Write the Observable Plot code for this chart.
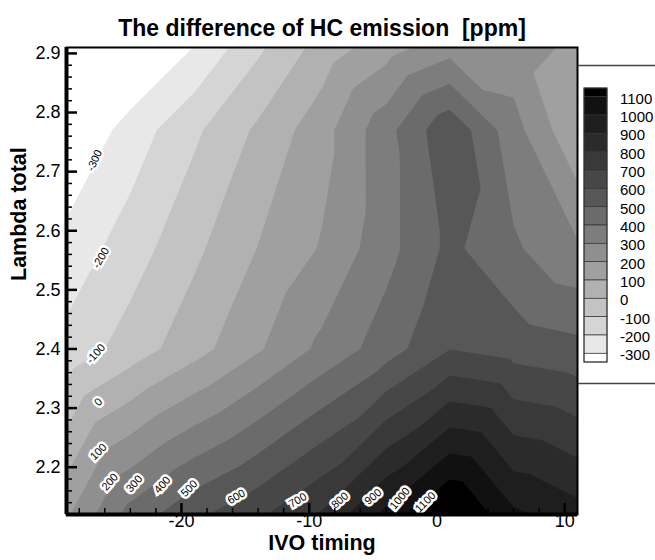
<!DOCTYPE html>
<html><head><meta charset="utf-8">
<script src="https://cdn.jsdelivr.net/npm/d3@7"></script>
<script src="https://cdn.jsdelivr.net/npm/@observablehq/plot@0.6"></script>
<style>
html,body{margin:0;padding:0;background:#fff;}
#wrap{position:relative;width:655px;height:560px;overflow:hidden;font-family:"Liberation Sans",Arial,sans-serif;}
#wrap svg.legend{position:absolute;left:0;top:0;pointer-events:none;}
</style></head><body><div id="wrap"></div>
<script>
// grid nodes
const ivoNodes = [-29, -24, -19, -14, -9, -4, 1, 6, 11];
const lambdaNodes = [2.12, 2.40, 2.57, 2.77, 2.91];
// HC difference [ppm] along each lambda row (same order as ivoNodes)
const hcAt212 = [185, 437, 577, 681, 813, 1029, 1235, 1020, 940];
const hcAt240 = [-170, -54, 61, 188, 325, 451, 598, 560, 530];
const hcAt257 = [-263, -150, -22, 103, 209, 364, 525, 415, 315];
const hcAt277 = [-408, -257, -119, 18, 161, 365, 580, 339, 110];
const hcAt291 = [-560, -429, -297, -119, 41, 157, 259, 240, 180];
const hcRows = [hcAt212, hcAt240, hcAt257, hcAt277, hcAt291];

const levels = [-300, -200, -100, 0, 100, 200, 300, 400, 500, 600, 700, 800, 900, 1000, 1100];
const xTicks = [-20, -10, 0, 10];
const xMinor = [-28, -26, -24, -22, -18, -16, -14, -12, -8, -6, -4, -2, 2, 4, 6, 8];
const yTicks = [2.2, 2.3, 2.4, 2.5, 2.6, 2.7, 2.8, 2.9];
const yMinor = [2.14, 2.16, 2.18, 2.22, 2.24, 2.26, 2.28, 2.32, 2.34, 2.36, 2.38, 2.42, 2.44, 2.46, 2.48,
                2.52, 2.54, 2.56, 2.58, 2.62, 2.64, 2.66, 2.68, 2.72, 2.74, 2.76, 2.78, 2.82, 2.84, 2.86, 2.88];

// contour labels
const labelValues = [-300, -200, -100, 0, 100, 200, 300, 400, 500, 600, 700, 800, 900, 1000, 1100];
const labelIvo = [-26.8, -26.3, -26.7, -26.5, -26.5, -25.6, -23.7, -21.5, -19.4, -15.7, -10.9, -7.6, -5.0, -2.9, -0.9];
const labelLambda = [2.719, 2.554, 2.392, 2.310, 2.226, 2.175, 2.172, 2.170, 2.164, 2.150, 2.144, 2.144, 2.150, 2.147, 2.141];
const labelAngle = [-65, -60, -48, -45, -45, -48, -48, -48, -45, -30, -30, -40, -40, -50, -45];

const bandColors = ["#ffffff", "#e8e8e8", "#d5d5d5", "#c3c3c3", "#b1b1b1", "#a0a0a0", "#8f8f8f", "#7d7d7d",
                    "#6b6b6b", "#575757", "#474747", "#393939", "#2b2b2b", "#1e1e1e", "#111111", "#000000"];

const points = [];
lambdaNodes.forEach((lam, i) => ivoNodes.forEach((ivo, j) => points.push({ivo, lambda: lam, value: hcRows[i][j]})));
const labels = labelValues.map((v, i) => ({v, ivo: labelIvo[i], lambda: labelLambda[i], angle: labelAngle[i]}));

const W = 655, H = 560, mL = 66, mR = 78, mT = 47, mB = 46;
const plotW = W - mL - mR, plotH = H - mT - mB;
const font = "'Liberation Sans', Arial, Helvetica, sans-serif";

const chart = Plot.plot({
  width: W, height: H,
  marginLeft: mL, marginRight: mR, marginTop: mT, marginBottom: mB,
  style: {fontFamily: font, fontSize: "18px", background: "white", color: "black"},
  x: {domain: [-29, 11], axis: null},
  y: {domain: [2.12, 2.91], axis: null},
  color: {type: "threshold", domain: levels, range: bandColors},
  marks: [
    Plot.contour(points, {x: "ivo", y: "lambda", fill: "value", value: "value", thresholds: levels,
      interpolate: "barycentric", pixelSize: 1, stroke: "none"}),
    Plot.text(labels, {x: "ivo", y: "lambda", text: d => String(d.v), rotate: "angle",
      fontSize: 11, fill: "black", stroke: "white", strokeWidth: 5, strokeLinejoin: "miter", paintOrder: "stroke"}),
    Plot.tickX(xTicks, {x: d => d, insetTop: plotH - 11, strokeWidth: 2.5, stroke: "black"}),
    Plot.tickX(xMinor, {x: d => d, insetTop: plotH - 6, strokeWidth: 1.5, stroke: "black"}),
    Plot.tickY(yTicks, {y: d => d, insetRight: plotW - 11, strokeWidth: 2.5, stroke: "black"}),
    Plot.tickY(yMinor, {y: d => d, insetRight: plotW - 6, strokeWidth: 1.5, stroke: "black"}),
    Plot.frame({stroke: "black", strokeWidth: 2}),
    Plot.ruleX([-29], {strokeWidth: 4, stroke: "black"}),
    Plot.ruleY([2.12], {strokeWidth: 4, stroke: "black"}),
    Plot.text(xTicks, {x: d => d, text: d => String(d), frameAnchor: "bottom", dy: 12, fontSize: 18}),
    Plot.text(yTicks, {y: d => d, text: d => d.toFixed(1), frameAnchor: "left", dx: -6, textAnchor: "end", fontSize: 18}),
    Plot.text(["The difference of HC emission \u00a0[ppm]"], {frameAnchor: "top", dy: -28, fontSize: 23, fontWeight: "bold"}),
    Plot.text(["IVO timing"], {frameAnchor: "bottom", dy: 35, fontSize: 21.5, fontWeight: "bold"}),
    Plot.text(["Lambda total"], {frameAnchor: "left", dx: -47, rotate: -90, fontSize: 21.5, fontWeight: "bold"})
  ]
});
const wrap = document.getElementById("wrap");
wrap.appendChild(chart);

// legend (colour bar) overlay
const svg = d3.select(wrap).append("svg").attr("class", "legend").attr("width", W).attr("height", H)
  .style("font-family", font);
const ly = d3.scaleLinear().domain([1100, -300]).range([96.7, 353.3]);
const half = 8.7;
svg.append("path").attr("d", `M${mL + plotW + 1},65.5H${W + 5}M${mL + plotW + 1},383.5H${W + 5}`)
  .attr("stroke", "#444").attr("stroke-width", 1.3).attr("fill", "none");
const bx = 584, bw = 23;
const bands = [];
bands.push({y0: ly(1100) - half, y1: ly(1100), c: bandColors[15]});
for (let i = levels.length - 1; i > 0; i--) bands.push({y0: ly(levels[i]), y1: ly(levels[i - 1]), c: bandColors[i]});
bands.push({y0: ly(-300), y1: ly(-300) + half, c: bandColors[0]});
svg.selectAll("rect.band").data(bands).join("rect").attr("class", "band")
  .attr("x", bx).attr("width", bw).attr("y", d => d.y0).attr("height", d => d.y1 - d.y0)
  .attr("fill", d => d.c).attr("stroke", "#333").attr("stroke-width", 0.7);
svg.append("rect").attr("x", bx).attr("y", ly(1100) - half).attr("width", bw)
  .attr("height", ly(-300) - ly(1100) + 2 * half).attr("fill", "none").attr("stroke", "#333").attr("stroke-width", 1);
svg.selectAll("text.lab").data(levels).join("text").attr("class", "lab")
  .attr("x", 620).attr("y", d => ly(d) + 3).attr("dominant-baseline", "middle")
  .attr("font-size", 15).attr("fill", "black").text(d => String(d));
</script></body></html>
